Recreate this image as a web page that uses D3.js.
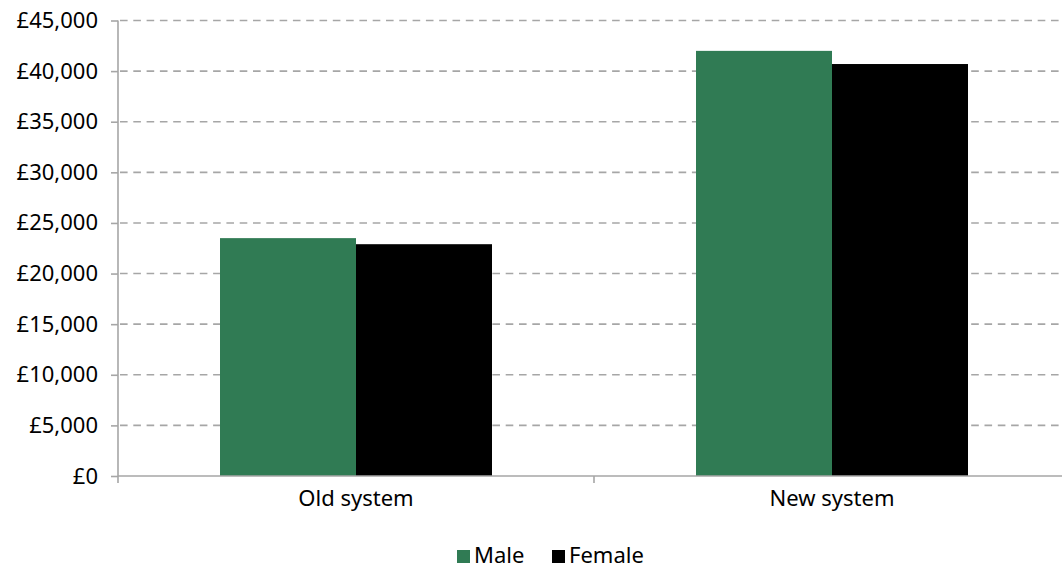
<!DOCTYPE html>
<html><head><meta charset="utf-8">
<script src="https://cdn.jsdelivr.net/npm/d3@7"></script>
<style>body{margin:0;background:#fff;} svg{display:block;} text{font-family:"Noto Sans",sans-serif;fill:#000;}</style>
</head><body><svg id="c" width="1062" height="570"></svg>
<script>
const categories = ["Old system", "New system"];
const seriesNames = ["Male", "Female"];
const maleValues = [23500, 42000];
const femaleValues = [22900, 40700];
const yTicks = [0, 5000, 10000, 15000, 20000, 25000, 30000, 35000, 40000, 45000];
const colors = ["#307B54", "#000000"];

(function(){
const svg = d3.select("#c");
const mLeft = 118, mRight = 1070, mTop = 20.5, mBottom = 476;
const fontSize = "22px";
const x = d3.scaleBand().domain(categories).range([mLeft, mRight]).paddingInner(0).paddingOuter(0);
const x1 = d3.scaleBand().domain(seriesNames).range([0, x.bandwidth()]).paddingInner(0).paddingOuter(0.75);
const y = d3.scaleLinear().domain([0, 45000]).range([mBottom, mTop]);
const fmt = v => "£" + d3.format(",")(v);

// gridlines
svg.append("g").selectAll("line").data(yTicks.filter(d => d > 0)).join("line")
  .attr("x1", mLeft + 2).attr("x2", 1062).attr("y1", d => y(d)).attr("y2", d => y(d))
  .attr("stroke", "#A6A6A6").attr("stroke-width", 1.6).attr("stroke-dasharray", "7.6,5.7");

// bars
const data = categories.map((c, i) => ({c, vals: [maleValues[i], femaleValues[i]]}));
const g = svg.append("g");
data.forEach(d => {
  d.vals.forEach((v, j) => {
    g.append("rect")
      .attr("x", x(d.c) + x1(seriesNames[j]))
      .attr("width", x1.bandwidth())
      .attr("y", y(v)).attr("height", mBottom - y(v))
      .attr("fill", colors[j]);
  });
});

// y axis
const yAxis = d3.axisLeft(y).tickValues(yTicks).tickFormat(fmt).tickSize(7).tickPadding(13);
const ya = svg.append("g").attr("transform", `translate(${mLeft},0)`).call(yAxis);
ya.select(".domain").attr("stroke", "#A6A6A6").attr("stroke-width", 1.6).attr("d", `M0,${mBottom}V${mTop}`);
ya.selectAll(".tick line").attr("stroke", "#A6A6A6").attr("stroke-width", 1.6);
ya.selectAll(".tick text").style("font-family", '"Noto Sans",sans-serif').style("font-size", fontSize).attr("fill", "#000");

// x axis
const xAxis = d3.axisBottom(x).tickSize(0).tickPadding(14);
const xa = svg.append("g").attr("transform", `translate(0,${mBottom})`).call(xAxis);
xa.select(".domain").attr("stroke", "#A6A6A6").attr("stroke-width", 1.6).attr("d", `M${mLeft},0H${mRight}`);
xa.selectAll(".tick text").style("font-family", '"Noto Sans",sans-serif').style("font-size", fontSize).attr("fill", "#000");
xa.append("g").selectAll("line").data([mLeft, x(categories[1]), mRight]).join("line")
  .attr("x1", d => d).attr("x2", d => d).attr("y1", 0).attr("y2", 7)
  .attr("stroke", "#A6A6A6").attr("stroke-width", 1.6);

// legend
const legend = svg.append("g");
const lx = [457, 552];
seriesNames.forEach((n, j) => {
  legend.append("rect").attr("x", lx[j]).attr("y", 550).attr("width", 13).attr("height", 13).attr("fill", colors[j]);
  legend.append("text").attr("x", lx[j] + 17).attr("y", 563).style("font-size", fontSize).text(n);
});
})();
</script></body></html>
